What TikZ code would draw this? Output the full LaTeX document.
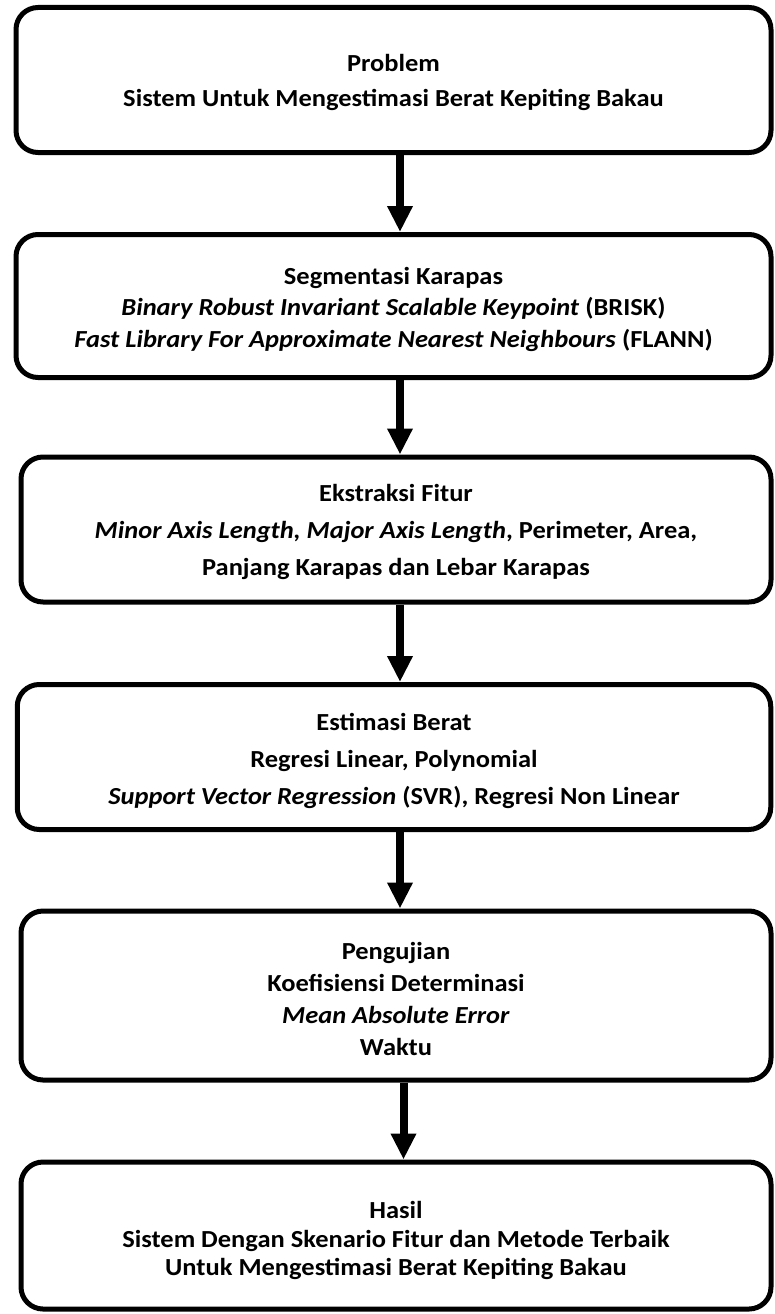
\documentclass[tikz,border=0pt]{standalone}
\usepackage{fontspec}
\setmainfont{Carlito}[FakeStretch=1.08]
\usetikzlibrary{arrows.meta}
\begin{document}
\begin{tikzpicture}[x=1pt,y=-1pt,
  stage/.style={draw=black,line width=5pt,rounded corners=22pt,inner sep=0pt},
  stagetext/.style={align=center,inner sep=0pt,font=\bfseries\fontsize{24.5}{#1}\selectfont},
  flow/.style={line width=8pt,-{Triangle[length=26pt,width=24pt]}}]
\useasboundingbox (0,0) rectangle (774,1314);
\fill[white] (0,0) rectangle (774,1314);

% the six stages
\node[stage,minimum width=755pt,minimum height=145pt] (b1) at (393.5,80) {};
\node[stage,minimum width=755pt,minimum height=143pt] (b2) at (393.5,306) {};
\node[stage,minimum width=750pt,minimum height=145pt] (b3) at (396,529.5) {};
\node[stage,minimum width=753.5pt,minimum height=145pt] (b4) at (394,757) {};
\node[stage,minimum width=750pt,minimum height=169pt] (b5) at (396,995.5) {};
\node[stage,minimum width=750pt,minimum height=147pt] (b6) at (396,1235.5) {};

% their texts (a negative yshift moves a text down)
\node[stagetext=35] (t1) at ([yshift=-2pt]b1.center)
  {Problem\\Sistem Untuk Mengestimasi Berat Kepiting Bakau};
\node[stagetext=31.5] (t2) at ([yshift=-3pt]b2.center)
  {Segmentasi Karapas\\
   \textit{Binary Robust Invariant Scalable Keypoint} (BRISK)\\
   \textit{Fast Library For Approximate Nearest Neighbours} (FLANN)};
\node[stagetext=37] (t3) at ([yshift=-2pt]b3.center)
  {Ekstraksi Fitur\\
   \textit{Minor Axis Length, Major Axis Length}, Perimeter, Area,\\
   Panjang Karapas dan Lebar Karapas};
\node[stagetext=37] (t4) at ([yshift=-4pt]b4.center)
  {Estimasi Berat\\
   Regresi Linear, Polynomial\\
   \textit{Support Vector Regression} (SVR), Regresi Non Linear};
\node[stagetext=32] (t5) at ([yshift=-3pt]b5.center)
  {Pengujian\\
   Koefisiensi Determinasi\\
   \textit{Mean Absolute Error}\\
   Waktu};
\node[stagetext=28.5] (t6) at ([yshift=-5pt]b6.center)
  {Hasil\\
   Sistem Dengan Skenario Fitur dan Metode Terbaik\\
   Untuk Mengestimasi Berat Kepiting Bakau};

% arrows between stages
\draw[flow] ([xshift=6.5pt]b1.south) -- ([xshift=6.5pt]b1.south |- b2.north);
\draw[flow] ([xshift=6.5pt]b2.south) -- ([xshift=6.5pt]b2.south |- b3.north);
\draw[flow] ([xshift=4pt]b3.south) -- ([xshift=4pt]b3.south |- b4.north);
\draw[flow] ([xshift=6pt]b4.south) -- ([xshift=6pt]b4.south |- b5.north);
\draw[flow] ([xshift=7.5pt]b5.south) -- ([xshift=7.5pt]b5.south |- b6.north);
\end{tikzpicture}
\end{document}
